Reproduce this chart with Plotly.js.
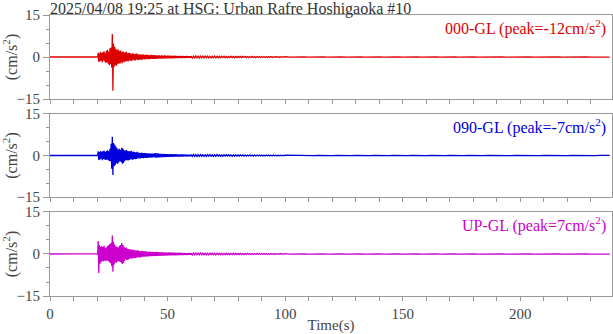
<!DOCTYPE html>
<html>
<head>
<meta charset="utf-8">
<script src="https://cdn.plot.ly/plotly-3.0.1.min.js"></script>
<style>html,body{margin:0;padding:0;background:#fff;}#chart{width:613px;height:334px;}</style>
</head>
<body>
<div id="chart"></div>
<script>
// ---- data ----
const channels = ["000-GL", "090-GL", "UP-GL"];
const peaks = ["-12", "-7", "7"];
const colors = ["#dd0000", "#0000dd", "#cc00cc"];

// quiet pre-event samples (s, cm/s^2)
const preTime = [0, 5, 10, 15, 19.75];
const preNS = [0, 0.05, -0.05, 0.05, 0];
const preEW = [0, -0.05, 0.05, -0.05, 0];
const preUD = [0, 0.05, -0.05, 0.05, 0];

// strong-motion window: samples every 0.25 s from 20 s to 60 s
const eventStart = 20;
const eventStep = 0.25;
const eventNS = [
  0.1,-0.1,1.6,-1.8,1.2,-1.5,1.9,-1.3,
  1.4,-1.9,1.7,-1.2,2.0,-1.6,1.3,-2.1,
  2.2,-1.8,2.6,-2.4,1.9,-2.9,3.1,-2.6,
  3.4,-3.8,8.2,-12.0,4.8,-3.6,3.7,-2.9,
  2.9,-3.1,2.4,-2.6,2.8,-2.2,2.1,-2.4,
  2.3,-1.9,1.8,-2.2,2.0,-1.7,1.6,-1.9,
  1.7,-1.5,1.9,-1.4,1.3,-1.6,1.5,-1.2,
  1.4,-1.3,1.1,-1.4,1.3,-1.0,1.2,-1.1,
  1.0,-1.2,1.1,-0.9,1.2,-1.0,0.9,-1.1,
  1.0,-0.8,0.9,-1.0,0.8,-0.9,1.0,-0.8,
  0.8,-0.9,0.7,-0.8,0.9,-0.7,0.8,-0.8,
  0.7,-0.8,0.6,-0.7,0.8,-0.6,0.7,-0.7,
  0.6,-0.7,0.7,-0.6,0.6,-0.7,0.5,-0.6,
  0.6,-0.5,0.6,-0.6,0.5,-0.6,0.6,-0.5,
  0.5,-0.6,0.5,-0.5,0.6,-0.5,0.4,-0.5,
  0.5,-0.4,0.5,-0.5,0.4,-0.5,0.5,-0.4,
  0.4,-0.5,0.4,-0.4,0.5,-0.4,0.4,-0.4,
  0.4,-0.4,0.3,-0.4,0.4,-0.3,0.4,-0.4,
  0.3,-0.4,0.4,-0.3,0.3,-0.4,0.3,-0.3,
  0.4,-0.3,0.3,-0.3,0.3,-0.3,0.3,-0.3,
  0.3
];
const eventEW = [
  0.1,-0.1,1.5,-1.6,1.2,-1.4,1.6,-1.1,
  1.3,-1.7,1.5,-1.2,1.8,-1.4,1.2,-1.6,
  1.6,-1.4,1.9,-1.7,1.5,-2.0,2.4,-2.1,
  4.2,-4.8,6.8,-7.0,4.5,-3.9,4.0,-3.4,
  3.2,-2.8,2.6,-3.0,2.2,-2.5,2.4,-2.0,
  2.1,-2.3,2.8,-3.0,2.5,-2.7,1.9,-2.1,
  1.8,-1.6,2.0,-1.7,1.6,-1.8,1.5,-1.6,
  1.5,-1.3,1.7,-1.4,1.3,-1.5,1.4,-1.2,
  1.2,-1.3,1.1,-1.2,1.3,-1.0,1.1,-1.1,
  1.0,-1.1,0.9,-1.0,1.1,-0.9,0.9,-1.0,
  0.9,-0.8,0.9,-0.9,0.8,-0.9,0.8,-0.8,
  0.7,-0.8,0.8,-0.7,0.7,-0.8,0.7,-0.7,
  0.7,-0.6,0.8,-0.7,0.9,-0.8,0.7,-0.7,
  0.8,-0.7,0.6,-0.7,0.6,-0.6,0.6,-0.6,
  0.5,-0.6,0.6,-0.5,0.5,-0.6,0.5,-0.5,
  0.5,-0.5,0.4,-0.5,0.5,-0.4,0.5,-0.5,
  0.4,-0.5,0.5,-0.4,0.4,-0.4,0.5,-0.4,
  0.4,-0.4,0.4,-0.4,0.3,-0.4,0.4,-0.4,
  0.4,-0.3,0.4,-0.4,0.3,-0.3,0.4,-0.3,
  0.3,-0.4,0.3,-0.3,0.3,-0.3,0.3,-0.3,
  0.3
];
const eventUD = [
  0.1,-0.2,4.6,-6.8,3.2,-3.5,2.6,-2.9,
  2.8,-2.4,2.5,-2.7,2.9,-2.3,2.2,-2.6,
  2.4,-2.2,2.8,-2.5,3.2,-2.9,3.6,-3.3,
  4.0,-4.4,6.6,-6.3,4.4,-3.8,3.4,-3.0,
  2.8,-3.1,2.5,-2.7,2.3,-2.6,2.9,-2.8,
  3.2,-3.0,3.9,-3.6,3.3,-3.2,2.6,-2.4,
  2.2,-2.0,2.3,-2.1,1.9,-2.0,1.8,-1.7,
  1.7,-1.6,1.5,-1.7,1.6,-1.4,1.4,-1.5,
  1.3,-1.4,1.2,-1.3,1.3,-1.1,1.2,-1.2,
  1.1,-1.2,1.0,-1.1,1.1,-1.0,1.0,-1.0,
  0.9,-1.0,1.0,-0.9,0.9,-0.9,0.8,-0.9,
  0.8,-0.8,0.9,-0.8,0.7,-0.8,0.8,-0.7,
  0.7,-0.8,0.7,-0.7,0.8,-0.7,0.7,-0.7,
  0.7,-0.6,0.6,-0.7,0.6,-0.6,0.7,-0.6,
  0.6,-0.6,0.5,-0.6,0.6,-0.5,0.5,-0.6,
  0.5,-0.5,0.6,-0.5,0.5,-0.5,0.5,-0.5,
  0.5,-0.4,0.5,-0.5,0.4,-0.5,0.5,-0.4,
  0.4,-0.5,0.4,-0.4,0.5,-0.4,0.4,-0.4,
  0.4,-0.4,0.4,-0.4,0.3,-0.4,0.4,-0.3,
  0.3,-0.4,0.3,-0.3,0.4,-0.3,0.3,-0.3,
  0.3
];

// late coda: samples every 0.5 s from 60.5 s to 100 s
const lateStart = 60.5;
const lateStep = 0.5;
const lateNS = [
  -0.35,0.3,-0.3,0.35,-0.3,0.3,-0.35,0.3,-0.3,0.3,
  -0.3,0.3,-0.25,0.3,-0.3,0.25,-0.3,0.25,-0.25,0.3,
  -0.25,0.25,-0.3,0.25,-0.25,0.25,-0.2,0.25,-0.25,0.2,
  -0.25,0.2,-0.2,0.25,-0.2,0.2,-0.25,0.2,-0.2,0.2,
  -0.2,0.2,-0.2,0.2,-0.15,0.2,-0.2,0.15,-0.2,0.15,
  -0.15,0.2,-0.15,0.15,-0.2,0.15,-0.15,0.15,-0.15,0.15,
  -0.15,0.15,-0.15,0.1,-0.15,0.15,-0.1,0.15,-0.15,0.1,
  -0.1,0.15,-0.1,0.1,-0.15,0.1,-0.1,0.1,-0.1,0.1
];
const lateEW = [
  -0.3,0.35,-0.3,0.3,-0.35,0.3,-0.3,0.3,-0.3,0.3,
  -0.3,0.25,-0.3,0.3,-0.25,0.3,-0.25,0.25,-0.3,0.25,
  -0.25,0.3,-0.25,0.25,-0.25,0.2,-0.25,0.25,-0.2,0.25,
  -0.2,0.25,-0.2,0.2,-0.25,0.2,-0.2,0.2,-0.2,0.2,
  -0.2,0.2,-0.15,0.2,-0.2,0.15,-0.2,0.15,-0.15,0.2,
  -0.15,0.15,-0.2,0.15,-0.15,0.15,-0.15,0.15,-0.15,0.15,
  -0.15,0.1,-0.15,0.15,-0.1,0.15,-0.15,0.1,-0.1,0.15,
  -0.1,0.1,-0.15,0.1,-0.1,0.1,-0.1,0.1,-0.1,0.1
];
const lateUD = [
  -0.35,0.35,-0.3,0.35,-0.3,0.3,-0.3,0.35,-0.3,0.3,
  -0.3,0.3,-0.3,0.25,-0.3,0.3,-0.25,0.3,-0.25,0.25,
  -0.3,0.25,-0.25,0.25,-0.25,0.25,-0.25,0.2,-0.25,0.25,
  -0.2,0.2,-0.25,0.2,-0.2,0.25,-0.2,0.2,-0.2,0.2,
  -0.2,0.2,-0.2,0.15,-0.2,0.2,-0.15,0.2,-0.15,0.15,
  -0.2,0.15,-0.15,0.15,-0.15,0.2,-0.15,0.15,-0.15,0.15,
  -0.15,0.15,-0.1,0.15,-0.15,0.1,-0.15,0.15,-0.1,0.1,
  -0.15,0.1,-0.1,0.1,-0.1,0.15,-0.1,0.1,-0.1,0.1
];

// quiet tail: samples every 2 s from 102 s to 238 s
const tailStart = 102;
const tailStep = 2;
const tailNS = [
  -0.05,0.05,-0.05,0.05,-0.05,0.05,-0.05,0.05,-0.05,0.05,
  -0.05,0.05,-0.05,0.05,-0.05,0.05,-0.05,0.05,-0.05,0.05,
  -0.04,0.04,-0.04,0.04,-0.04,0.04,-0.04,0.04,-0.04,0.04,
  -0.04,0.04,-0.04,0.04,-0.04,0.04,-0.04,0.04,-0.04,0.04,
  -0.03,0.03,-0.03,0.03,-0.03,0.03,-0.03,0.03,-0.03,0.03,
  -0.03,0.03,-0.03,0.03,-0.03,0.03,-0.03,0.03,-0.03,0.03,
  -0.03,0.03,-0.03,0.03,-0.03,0.03,-0.03,0.03,-0.03
];
const tailEW = [
  0.05,-0.05,0.05,-0.05,0.05,-0.05,0.05,-0.05,0.05,-0.05,
  0.05,-0.05,0.05,-0.05,0.05,-0.05,0.05,-0.05,0.05,-0.05,
  0.04,-0.04,0.04,-0.04,0.04,-0.04,0.04,-0.04,0.04,-0.04,
  0.04,-0.04,0.04,-0.04,0.04,-0.04,0.04,-0.04,0.04,-0.04,
  0.03,-0.03,0.03,-0.03,0.03,-0.03,0.03,-0.03,0.03,-0.03,
  0.03,-0.03,0.03,-0.03,0.03,-0.03,0.03,-0.03,0.03,-0.03,
  0.03,-0.03,0.03,-0.03,0.03,-0.03,0.03,-0.03,0.03
];
const tailUD = [
  -0.05,0.05,-0.05,0.05,-0.05,0.05,-0.05,0.05,-0.05,0.05,
  -0.05,0.05,-0.05,0.05,-0.05,0.05,-0.05,0.05,-0.05,0.05,
  -0.04,0.04,-0.04,0.04,-0.04,0.04,-0.04,0.04,-0.04,0.04,
  -0.04,0.04,-0.04,0.04,-0.04,0.04,-0.04,0.04,-0.04,0.04,
  -0.03,0.03,-0.03,0.03,-0.03,0.03,-0.03,0.03,-0.03,0.03,
  -0.03,0.03,-0.03,0.03,-0.03,0.03,-0.03,0.03,-0.03,0.03,
  -0.03,0.03,-0.03,0.03,-0.03,0.03,-0.03,0.03,-0.03
];

const xTickVals = [0, 50, 100, 150, 200];
const yTickVals = [-15, 0, 15];
const titleText = "2025/04/08 19:25 at HSG: Urban Rafre Hoshigaoka #10";
const yTitle = "(cm/s<sup>2</sup>)";
const xTitle = "Time(s)";

// ---- build ----
function series(pre, ev, late, tail) {
  const x = [], y = [];
  preTime.forEach((t, i) => { x.push(t); y.push(pre[i]); });
  ev.forEach((v, i) => { x.push(eventStart + i * eventStep); y.push(v); });
  late.forEach((v, i) => { x.push(lateStart + i * lateStep); y.push(v); });
  tail.forEach((v, i) => { x.push(tailStart + i * tailStep); y.push(v); });
  return {x, y};
}
const all = [
  series(preNS, eventNS, lateNS, tailNS),
  series(preEW, eventEW, lateEW, tailEW),
  series(preUD, eventUD, lateUD, tailUD)
];

const font = "Liberation Serif, Times New Roman, serif";
const frame = "#999999";
const textCol = "#444444";

const traces = all.map((s, k) => ({
  type: "scatter", mode: "lines", x: s.x, y: s.y,
  xaxis: k === 0 ? "x" : "x" + (k + 1), yaxis: k === 0 ? "y" : "y" + (k + 1),
  line: {color: colors[k], width: 1.3}, hoverinfo: "skip", showlegend: false
}));

const domains = [[0.701, 1], [0.352, 0.648], [0, 0.299]];
const layout = {
  width: 613, height: 334,
  margin: {l: 50, r: 1, t: 15, b: 38},
  paper_bgcolor: "#fff", plot_bgcolor: "#fff",
  font: {family: font, size: 15, color: textCol},
  showlegend: false,
  title: {text: titleText, xref: "container", x: 50 / 613, xanchor: "left",
          yref: "container", y: 1 - 8 / 334, yanchor: "middle", pad: {t: 0, b: 0, l: 0, r: 0},
          font: {family: font, size: 16, color: "#333"}},
  annotations: []
};
for (let k = 0; k < 3; k++) {
  const sfx = k === 0 ? "" : String(k + 1);
  layout["xaxis" + sfx] = {
    domain: [0, 1], range: [0, 239], anchor: "y" + sfx,
    tickmode: "array", tickvals: xTickVals, showticklabels: k === 2,
    ticks: "outside", ticklen: 4, tickcolor: frame, tickwidth: 1,
    minor: {dtick: 10, tick0: 0, ticks: "outside", ticklen: 4, tickcolor: frame},
    showline: true, linecolor: frame, linewidth: 1, mirror: true,
    showgrid: false, zeroline: false,
    tickfont: {family: font, size: 15, color: textCol},
    title: k === 2 ? {text: xTitle, font: {family: font, size: 15, color: textCol}, standoff: 1} : {text: ""}
  };
  layout["yaxis" + sfx] = {
    domain: domains[k], range: [-15, 15], anchor: "x" + sfx,
    tickmode: "array", tickvals: yTickVals,
    ticks: "outside", ticklen: 6, tickcolor: frame, tickwidth: 1,
    minor: {dtick: 5, tick0: 0, ticks: "outside", ticklen: 3, tickcolor: frame},
    showline: true, linecolor: frame, linewidth: 1, mirror: true,
    showgrid: false, zeroline: false,
    tickfont: {family: font, size: 15, color: textCol},
    title: {text: yTitle, font: {family: font, size: 16, color: textCol}, standoff: 7}
  };
  layout.annotations.push({
    xref: "paper", x: 1, xanchor: "right", xshift: -4,
    yref: "y" + sfx + " domain", y: 1, yanchor: "top", yshift: 0,
    showarrow: false,
    text: channels[k] + " (peak=" + peaks[k] + "cm/s<sup>2</sup>)",
    font: {family: font, size: 16, color: colors[k]}
  });
}
Plotly.newPlot("chart", traces, layout, {staticPlot: true, displayModeBar: false});
</script>
</body>
</html>
